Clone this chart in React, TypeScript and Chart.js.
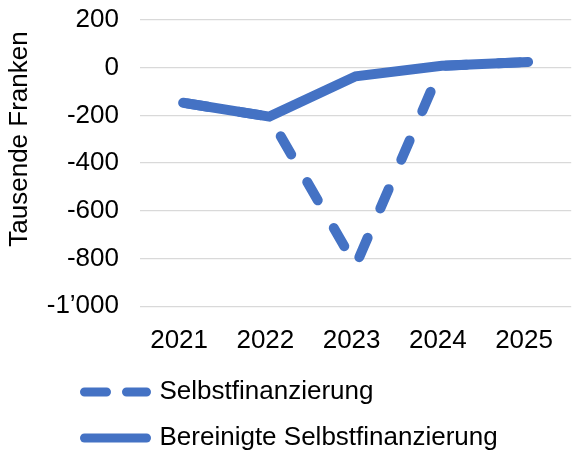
import React, { useEffect, useRef } from 'react';
import { Chart, registerables } from 'chart.js';

Chart.register(...registerables);

const categories = ['2021', '2022', '2023', '2024', '2025'];
const selbstfinanzierung = [-147, -205, -830, 8, 24];
const bereinigteSelbstfinanzierung = [-147, -205, -36, 8, 24];
const seriesNames = ['Selbstfinanzierung', 'Bereinigte Selbstfinanzierung'];
const yTitle = 'Tausende Franken';
const yMin = -1000;
const yMax = 200;
const yStep = 200;

const BLUE = '#4472C4';
const FONT = { family: '"Liberation Sans", Arial, sans-serif', size: 26 };

function formatSwiss(v: number): string {
  const s = Math.abs(v).toString().replace(/\B(?=(\d{3})+(?!\d))/g, '\u2019');
  return (v < 0 ? '-' : '') + s;
}

const customPlugin = {
  id: 'customLayout',
  afterLayout(chart: any) {
    const lg = chart.legend;
    if (lg) {
      lg.left = 64.5;
      lg.top = 359;
    }
  },
  afterDraw(chart: any) {
    const ctx = chart.ctx;
    ctx.save();
    ctx.translate(20, 139);
    ctx.rotate(-Math.PI / 2);
    ctx.font = '26px "Liberation Sans", Arial, sans-serif';
    ctx.fillStyle = '#000';
    ctx.textAlign = 'center';
    ctx.textBaseline = 'middle';
    ctx.fillText(yTitle, 0, 0);
    ctx.restore();
  },
};

export default function App() {
  const ref = useRef<HTMLCanvasElement>(null);
  useEffect(() => {
    const chart = new Chart(ref.current as HTMLCanvasElement, {
      type: 'line',
      data: {
        labels: categories,
        datasets: [
          {
            label: seriesNames[0],
            data: selbstfinanzierung,
            borderColor: BLUE,
            backgroundColor: BLUE,
            borderWidth: 10,
            borderDash: [21, 32],
            borderDashOffset: 49,
            borderCapStyle: 'round',
            borderJoinStyle: 'round',
            pointRadius: 0,
            pointHoverRadius: 0,
            tension: 0,
            order: 2,
          },
          {
            label: seriesNames[1],
            data: bereinigteSelbstfinanzierung,
            borderColor: BLUE,
            backgroundColor: BLUE,
            borderWidth: 10,
            borderCapStyle: 'round',
            borderJoinStyle: 'miter',
            pointRadius: 0,
            pointHoverRadius: 0,
            tension: 0,
            order: 1,
          },
        ],
      },
      options: {
        responsive: false,
        animation: false,
        events: [],
        layout: { padding: { left: 0, right: -4, top: 20, bottom: 0 } },
        scales: {
          x: {
            offset: true,
            grid: { display: false, drawTicks: false },
            border: { display: false },
            ticks: {
              font: FONT,
              color: '#000',
              padding: 19,
              labelOffset: -4,
              maxRotation: 0,
              autoSkip: false,
            },
            afterFit: (s: any) => {
              s.height = 452 - 60 - 306.3;
            },
          },
          y: {
            min: yMin,
            max: yMax,
            ticks: {
              stepSize: yStep,
              font: FONT,
              color: '#000',
              padding: 21,
              callback: (v: any) => formatSwiss(Number(v)),
            },
            grid: { color: '#D9D9D9', lineWidth: 1.33, drawTicks: false },
            border: { display: false },
            afterFit: (s: any) => {
              s.width = 140;
              s.paddingTop = 0;
              s.paddingBottom = 0;
            },
          },
        },
        plugins: {
          tooltip: { enabled: false },
          legend: {
            position: 'bottom',
            align: 'start',
            maxHeight: 60,
            labels: {
              font: FONT,
              color: '#000',
              usePointStyle: true,
              pointStyle: 'line',
              pointStyleWidth: 62,
              boxHeight: 9,
              padding: 20,
              sort: (a: any, b: any) => a.datasetIndex - b.datasetIndex,
              generateLabels: (c: any) => {
                const items = (Chart.defaults.plugins.legend.labels as any).generateLabels(c);
                items.forEach((it: any) => {
                  if (it.datasetIndex === 0) {
                    it.lineDash = [22, 20];
                    it.lineDashOffset = 0;
                  }
                  it.lineCap = 'round';
                  it.lineWidth = 9;
                });
                return items;
              },
            },
          },
        },
      },
      plugins: [customPlugin],
    } as any);
    return () => chart.destroy();
  }, []);
  return (
    <div style={{ position: 'fixed', left: 0, top: 0, width: 576, height: 452 }}>
      <canvas ref={ref} width={576} height={452} style={{ width: 576, height: 452 }} />
    </div>
  );
}
